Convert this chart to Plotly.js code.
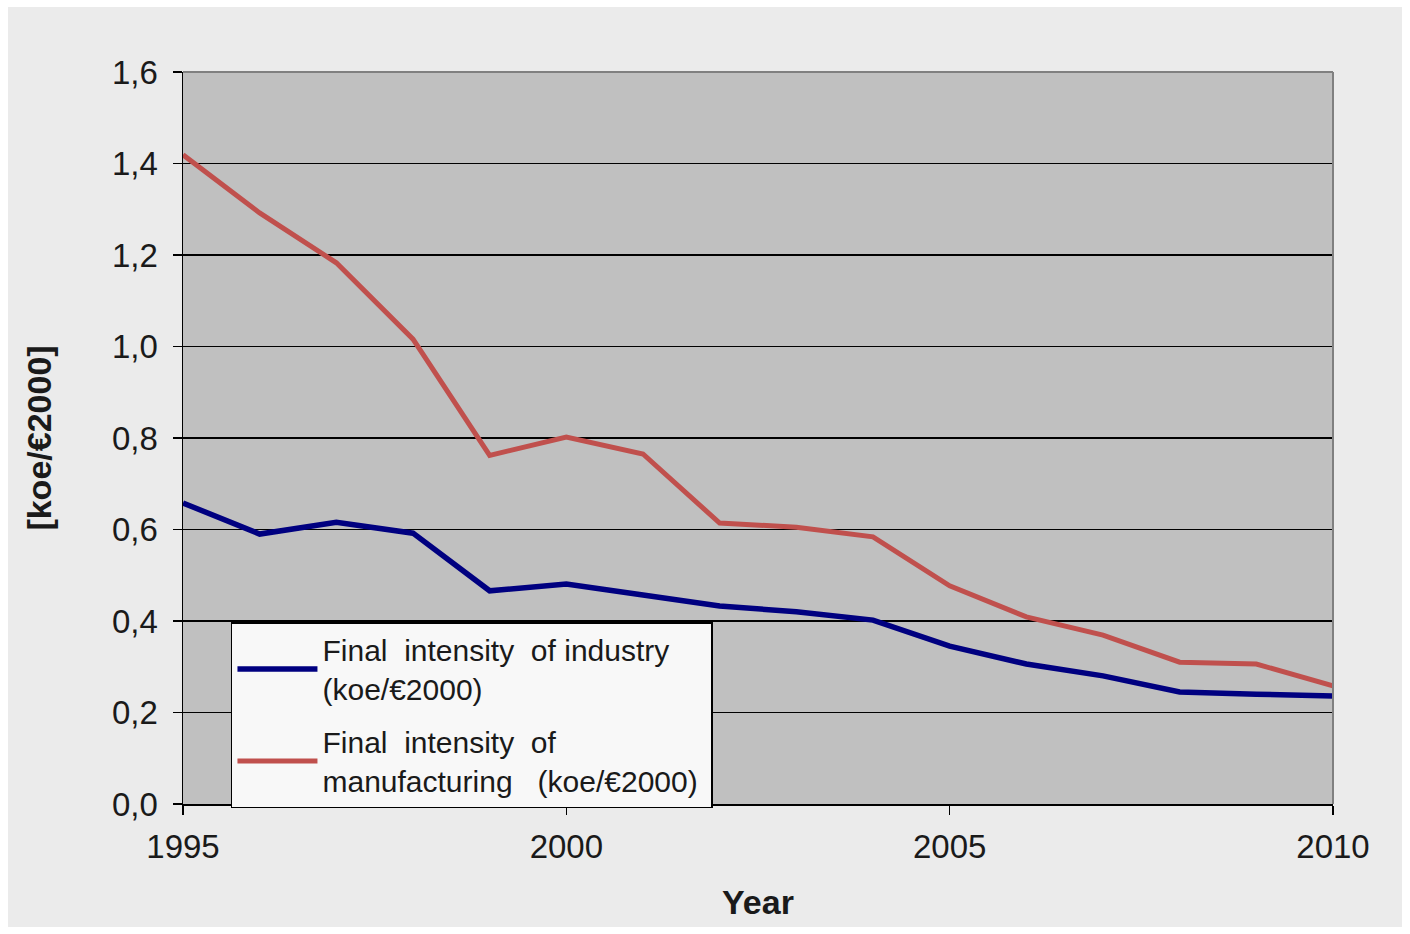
<!DOCTYPE html>
<html>
<head>
<meta charset="utf-8">
<script src="https://cdn.plot.ly/plotly-3.0.1.min.js"></script>
<style>
html,body{margin:0;padding:0;background:#ffffff;}
#chart{position:absolute;left:8px;top:7px;width:1394px;height:920px;}
</style>
</head>
<body>
<div id="chart"></div>
<script>
const years = [1995,1996,1997,1998,1999,2000,2001,2002,2003,2004,2005,2006,2007,2008,2009,2010];
const industry = [0.658,0.590,0.616,0.592,0.466,0.481,0.457,0.433,0.420,0.402,0.345,0.306,0.280,0.245,0.240,0.236];
const manufacturing = [1.419,1.292,1.183,1.016,0.762,0.802,0.765,0.614,0.605,0.584,0.477,0.409,0.369,0.310,0.306,0.258];
const seriesNames = ["Final  intensity  of industry<br>(koe/€2000)", "Final  intensity  of<br>manufacturing   (koe/€2000) "];
const yTicks = [0,0.2,0.4,0.6,0.8,1.0,1.2,1.4,1.6];
const xTicks = [1995,2000,2005,2010];

const font = "Liberation Sans, Arial, sans-serif";
const traces = [
  {x: years, y: industry, name: seriesNames[0], mode: "lines", type: "scatter", legendgroup: "a",
   line: {color: "#000080", width: 5.5}},
  {x: years, y: manufacturing, name: seriesNames[1], mode: "lines", type: "scatter", legendgroup: "b",
   line: {color: "#c0504d", width: 5}}
];
const layout = {
  width: 1394, height: 920,
  paper_bgcolor: "#ebebeb", plot_bgcolor: "#c0c0c0",
  margin: {l: 175, r: 69, t: 65, b: 123},
  separators: ",.",
  showlegend: true,
  font: {family: font, color: "#1a1a1a"},
  xaxis: {
    range: [1995, 2010], tickvals: xTicks, ticktext: xTicks.map(String),
    showgrid: false, zeroline: false,
    showline: true, linecolor: "#000000", linewidth: 1.5, mirror: false,
    ticks: "outside", ticklen: 9, tickcolor: "#000000", tickwidth: 1.5,
    ticklabelstandoff: 4,
    tickfont: {size: 33, family: font, color: "#1a1a1a"},
    title: {text: "<b>Year</b>", font: {size: 34, family: font, color: "#1a1a1a"}, standoff: 26}
  },
  yaxis: {
    range: [0, 1.6], tickvals: yTicks, tickformat: ".1f",
    showgrid: true, gridcolor: "#000000", gridwidth: 1.3, zeroline: false,
    showline: true, linecolor: "#000000", linewidth: 1.5,
    ticks: "outside", ticklen: 9, tickcolor: "#000000", tickwidth: 1.5,
    ticklabelstandoff: 8,
    tickfont: {size: 33, family: font, color: "#1a1a1a"},
    title: {text: "<b>[koe/€2000]</b>", font: {size: 34, family: font, color: "#1a1a1a"}, standoff: 50}
  },
  legend: {
    x: 0.0417, y: 0.2486, xanchor: "left", yanchor: "top",
    bgcolor: "#f8f8f8", bordercolor: "#000000", borderwidth: 1.5,
    font: {size: 30, family: font, color: "#1a1a1a"},
    itemwidth: 80, traceorder: "grouped", tracegroupgap: 11
  },
  shapes: [
    {type: "line", xref: "paper", yref: "paper", x0: 0, x1: 1, y0: 1, y1: 1,
     line: {color: "#808080", width: 2}},
    {type: "line", xref: "paper", yref: "paper", x0: 1, x1: 1, y0: 0, y1: 1,
     line: {color: "#808080", width: 2}}
  ]
};
Plotly.newPlot("chart", traces, layout, {displayModeBar: false, staticPlot: true});
</script>
</body>
</html>
